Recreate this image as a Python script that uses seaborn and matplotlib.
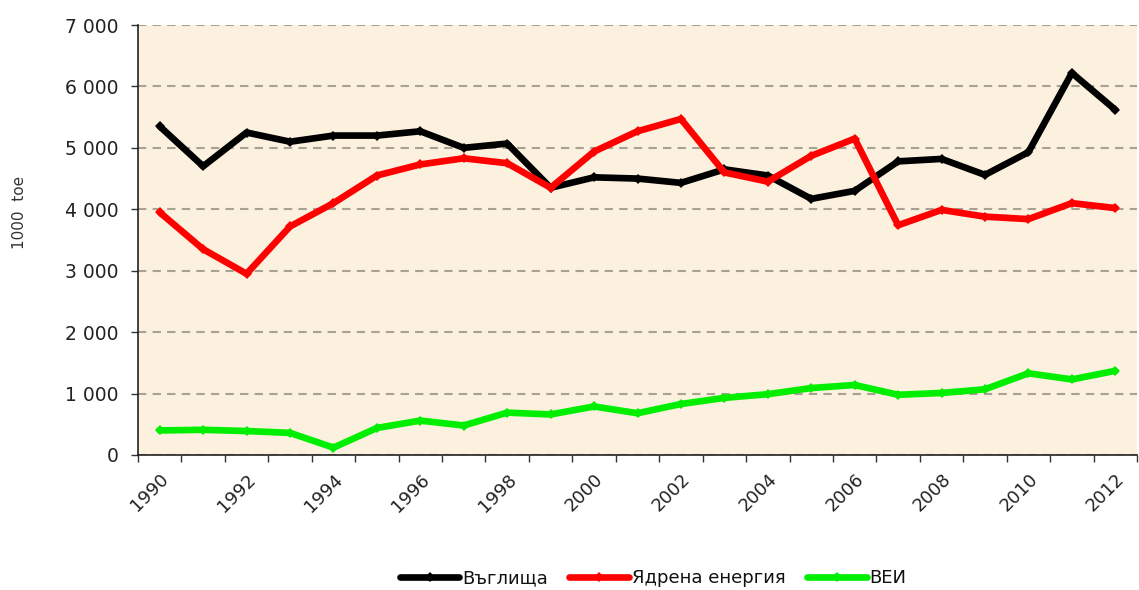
import matplotlib
matplotlib.use("Agg")
import matplotlib.pyplot as plt
from matplotlib.ticker import FuncFormatter, FixedLocator
import seaborn as sns
import pandas as pd

years = list(range(1990, 2013))

coal = [5350, 4700, 5250, 5100, 5200, 5200, 5270, 5000, 5070, 4350, 4520, 4500,
        4430, 4650, 4550, 4170, 4300, 4780, 4820, 4560, 4930, 6220, 5620]
nuclear = [3950, 3350, 2950, 3720, 4100, 4550, 4730, 4830, 4750, 4350, 4940, 5270,
           5470, 4600, 4450, 4870, 5150, 3740, 3990, 3880, 3840, 4100, 4020]
renewables = [400, 410, 390, 360, 120, 440, 560, 480, 690, 660, 790, 680,
              830, 930, 990, 1090, 1140, 980, 1010, 1070, 1330, 1230, 1370]

series_names = ["Въглища", "Ядрена енергия", "ВЕИ"]
series_colors = ["#000000", "#FF0000", "#00EE00"]

frames = []
for name, vals in zip(series_names, [coal, nuclear, renewables]):
    frames.append(pd.DataFrame({"idx": range(len(years)), "year": years,
                                "value": vals, "series": name}))
df = pd.concat(frames, ignore_index=True)

sns.set_theme(style="white")
plt.rcParams["font.family"] = ["DejaVu Sans"]

fig = plt.figure(figsize=(11.39, 5.90), dpi=100)
ax = fig.add_axes([138 / 1139, 1 - 455 / 590, (1137 - 138) / 1139, (455 - 25) / 590])
ax.set_facecolor("#FBF1DE")

sns.lineplot(data=df, x="idx", y="value", hue="series", hue_order=series_names,
             palette=series_colors, style="series", markers=["D", "D", "D"],
             dashes=False, linewidth=4.8, markersize=5.5, markeredgewidth=0,
             ax=ax, legend=True)

ax.set_xlim(-0.5, len(years) - 0.5)
ax.set_ylim(0, 7000)
ax.set_yticks(range(0, 7001, 1000))
ax.yaxis.set_major_formatter(FuncFormatter(lambda v, p: f"{int(v):,}".replace(",", " ")))
ax.grid(axis="y", color="#A9A193", linestyle=(0, (4, 3)), linewidth=1.5)
ax.set_axisbelow(True)

label_idx = [i for i, y in enumerate(years) if y % 2 == 0]
ax.xaxis.set_major_locator(FixedLocator(label_idx))
ax.set_xticklabels([str(years[i]) for i in label_idx], rotation=45, ha="right",
                   rotation_mode="anchor")
ax.xaxis.set_minor_locator(FixedLocator([i - 0.5 for i in range(len(years) + 1)]))
ax.tick_params(axis="x", which="major", length=0, pad=11, labelsize=13, colors="#222222")
ax.tick_params(axis="x", which="minor", length=5, width=1, color="#333333", bottom=True)
ax.tick_params(axis="y", which="major", length=5, width=1, color="#333333", left=True,
               labelsize=13.5, labelcolor="#222222", pad=9)

for side in ["top", "right"]:
    ax.spines[side].set_visible(False)
for side in ["left", "bottom"]:
    ax.spines[side].set_color("#222222")
    ax.spines[side].set_linewidth(1.2)

ax.set_xlabel("")
ax.set_ylabel("1000  toe", fontsize=11, color="#333333")
ax.yaxis.set_label_coords(-111 / 999, (455 - 212) / 430)

handles, labels = ax.get_legend_handles_labels()
ax.legend_.remove()
fig.legend(handles, labels, loc="center", bbox_to_anchor=(653 / 1139, 1 - 578 / 590), ncol=3,
           frameon=False, fontsize=13, handlelength=3.3, columnspacing=1.2,
           handletextpad=0.15, labelcolor="#111111")

fig.savefig("out.png", dpi=100, facecolor="white")
